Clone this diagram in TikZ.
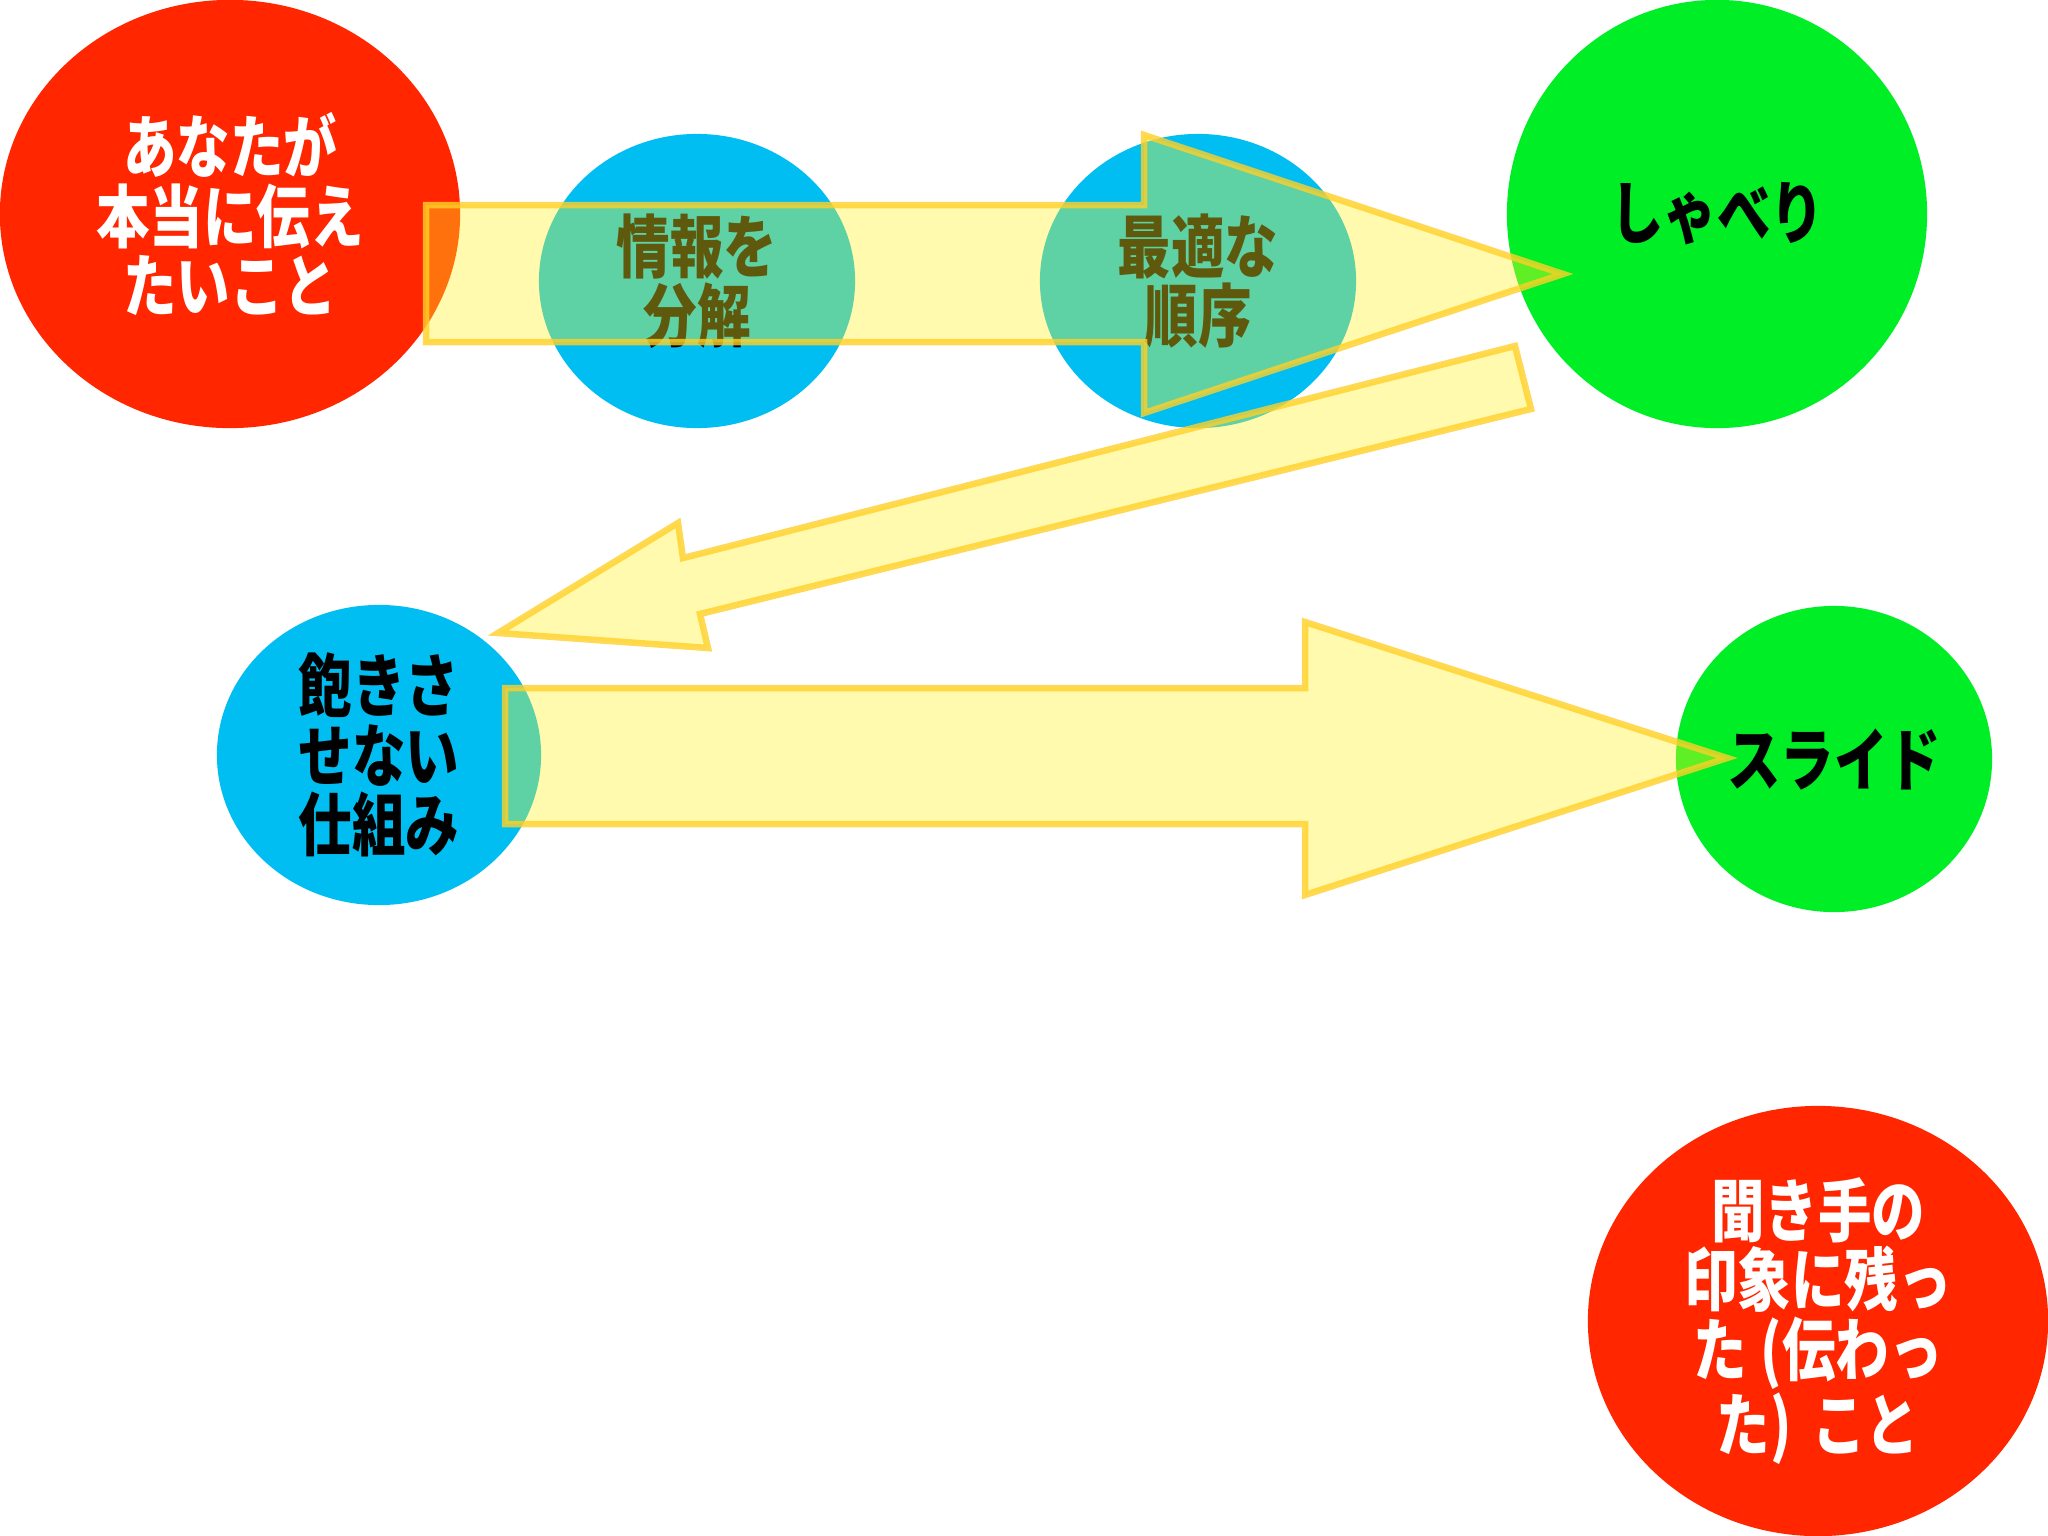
\documentclass[tikz,border=0pt]{standalone}
\usepackage{fontspec}
\newfontfamily\jp{Noto Sans CJK JP}[FakeStretch=0.78]
\usetikzlibrary{shapes.geometric}
\definecolor{cred}{RGB}{255,38,0}
\definecolor{cblue}{RGB}{0,190,242}
\definecolor{cgreen}{RGB}{0,238,38}
\definecolor{afill}{RGB}{255,244,34}
\definecolor{aline}{RGB}{255,208,40}
\tikzset{
  blob/.style={ellipse, inner sep=0pt, align=center,
    font=\jp\bfseries\fontsize{19.5pt}{19.7pt}\selectfont},
  redblob/.style={blob, fill=cred, text=white},
  blueblob/.style={blob, fill=cblue, text=black},
  greenblob/.style={blob, fill=cgreen, text=black},
  blockarrow/.style={fill=afill, fill opacity=0.37, draw=aline, draw opacity=0.8,
    line width=0.065cm, line join=miter}
}
\begin{document}
\begin{tikzpicture}[x=0.01cm, y=-0.01cm]
\useasboundingbox[fill=white] (0,0) rectangle (2048,1536);

\node[redblob, minimum width=4.6cm, minimum height=4.28cm] (want) at (230,214)
  {あなたが\\本当に伝え\\たいこと};
\node[blueblob, minimum width=3.16cm, minimum height=2.94cm] (split) at (697,281)
  {情報を\\分解};
\node[blueblob, minimum width=3.16cm, minimum height=2.94cm] (order) at (1198,281)
  {最適な\\順序};
\node[greenblob, minimum width=4.2cm, minimum height=4.28cm] (talk) at (1717,214)
  {しゃべり};
\node[blueblob, minimum width=3.24cm, minimum height=3.0cm] (keep) at (379,755)
  {飽きさ\\せない\\仕組み};
\node[greenblob, minimum width=3.16cm, minimum height=3.06cm] (slide) at (1834,759)
  {スライド};
\node[redblob, minimum width=4.6cm, minimum height=4.3cm] (heard) at (1818,1321)
  {聞き手の\\印象に残っ\\た\hspace{0.2em}(伝わっ\\た)\hspace{0.3em}こと};

% block arrows
\draw[blockarrow] (426,205) -- (1144,205) -- (1144,135) -- (1563,274)
  -- (1144,413) -- (1144,342) -- (426,342) -- cycle;
\draw[blockarrow] (1515,346) -- (1531,409) -- (700,614) -- (708,648)
  -- (498,633) -- (678,523) -- (683,558) -- cycle;
\draw[blockarrow] (505,688) -- (1305,688) -- (1305,622) -- (1727,758)
  -- (1305,895) -- (1305,824) -- (505,824) -- cycle;
\end{tikzpicture}
\end{document}
